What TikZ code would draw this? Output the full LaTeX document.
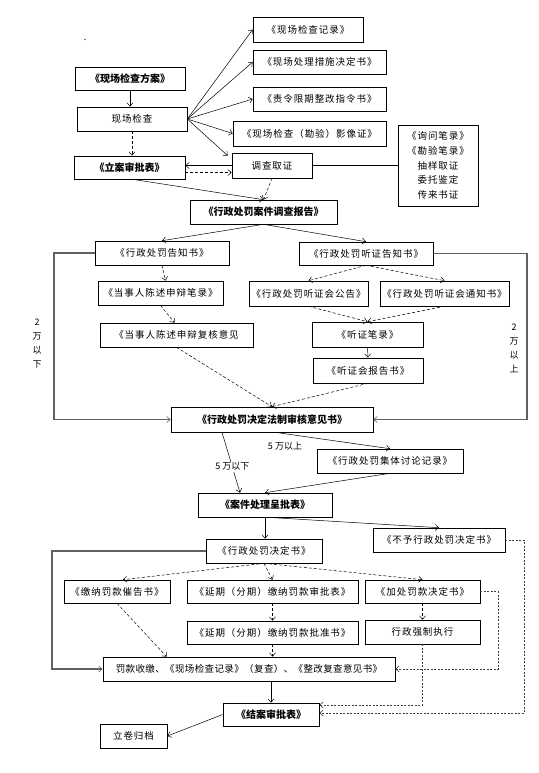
\documentclass[tikz,border=0pt]{standalone}
\usepackage{fontspec}
\newfontfamily\cjk[LetterSpace=10]{Noto Sans CJK SC}
\usetikzlibrary{arrows.meta,calc}
\begin{document}
\begin{tikzpicture}[x=1pt,y=-1pt,
  box/.style={draw, line width=0.6pt, inner sep=0pt, minimum height=24pt, align=center,
    font=\cjk\fontsize{9.5}{11}\selectfont},
  bbox/.style={box, font=\cjk\addfontfeature{LetterSpace=0}\bfseries\fontsize{10}{12}\selectfont},
  lbl/.style={inner sep=1pt, align=center, font=\cjk\addfontfeature{LetterSpace=0}\fontsize{9}{14}\selectfont},
  arr/.style={line width=0.5pt, -{Straight Barb[length=3.5pt,width=6pt]}},
  darr/.style={arr, dash pattern=on 3pt off 2pt},
  loopln/.style={line width=1.8pt, draw=black!62, -{Straight Barb[length=3.5pt,width=6pt,line width=0.6pt]}},
  dloop/.style={line width=0.8pt, draw=black!75, dash pattern=on 2pt off 1.5pt, -{Straight Barb[length=3.5pt,width=6pt,line width=0.6pt]}}
]
\useasboundingbox (0,0) rectangle (538,773);
\node[lbl] (dot) at (85,40) {.};
% top part
\node[bbox, minimum width=110pt, minimum height=23pt] (fa) at (130,78.5) {《现场检查方案》};
\node[box, minimum width=110pt] (xc) at (132,119) {现场检查};
\node[bbox, minimum width=111pt, minimum height=23pt] (la) at (129.5,167.5) {《立案审批表》};
\node[box, minimum width=110pt, minimum height=25pt] (r1) at (308,29.5) {《现场检查记录》};
\node[box, minimum width=133pt] (r2) at (319.5,62) {《现场处理措施决定书》};
\node[box, minimum width=133pt] (r3) at (319.5,99) {《责令限期整改指令书》};
\node[box, minimum width=153pt, minimum height=25pt] (r4) at (309.5,133.5) {《现场检查（勘验）影像证》};
\node[box, minimum width=80pt, minimum height=25pt] (dc) at (272,165.5) {调查取证};
\node[box, minimum width=80pt, minimum height=81pt, font=\cjk\fontsize{9.5}{14.7}\selectfont] (rb) at (438,165.5) {《询问笔录》\\《勘验笔录》\\抽样取证\\委托鉴定\\传来书证};
\node[bbox, minimum width=147pt] (bg) at (263.5,212) {《行政处罚案件调查报告》};
% middle
\node[box, minimum width=134pt] (gz) at (162,253) {《行政处罚告知书》};
\node[box, minimum width=125pt] (sb1) at (160.5,293) {《当事人陈述申辩笔录》};
\node[box, minimum width=153pt] (sb2) at (176.5,335) {《当事人陈述申辩复核意见};
\node[box, minimum width=134pt, minimum height=23pt] (tz) at (366,253.5) {《行政处罚听证告知书》};
\node[box, minimum width=119pt, minimum height=25pt] (gg) at (308.5,293.5) {《行政处罚听证会公告》};
\node[box, minimum width=129pt, minimum height=25pt] (tzs) at (444.5,293.5) {《行政处罚听证会通知书》};
\node[box, minimum width=111pt, minimum height=25pt] (bl) at (367.5,334.5) {《听证笔录》};
\node[box, minimum width=110pt, minimum height=25pt] (bgs) at (368,370.5) {《听证会报告书》};
\node[bbox, minimum width=202pt, minimum height=25pt] (sh) at (272,419.5) {《行政处罚决定法制审核意见书》};
\node[box, minimum width=146pt] (jt) at (390,461) {《行政处罚集体讨论记录》};
\node[bbox, minimum width=134pt] (cp) at (265,505) {《案件处理呈批表》};
% bottom
\node[box, minimum width=132pt] (by) at (439,540) {《不予行政处罚决定书》};
\node[box, minimum width=116pt] (jd) at (264,551) {《行政处罚决定书》};
\node[box, minimum width=106pt, minimum height=23pt] (cg) at (117,591.5) {《缴纳罚款催告书》};
\node[box, minimum width=171pt, minimum height=23pt] (sp) at (272.5,591.5) {《延期（分期）缴纳罚款审批表》};
\node[box, minimum width=115pt, minimum height=23pt] (jc) at (422.5,591.5) {《加处罚款决定书》};
\node[box, minimum width=171pt, minimum height=23pt] (pz) at (272.5,632.5) {《延期（分期）缴纳罚款批准书》};
\node[box, minimum width=115pt] (qz) at (422.5,632) {行政强制执行};
\node[box, minimum width=292pt, font=\cjk\addfontfeature{LetterSpace=4}\fontsize{9.5}{11}\selectfont] (fk) at (249,669) {罚款收缴、《现场检查记录》（复查）、《整改复查意见书》};
\node[bbox, minimum width=96pt, minimum height=23pt] (ja) at (271,714.5) {《结案审批表》};
\node[box, minimum width=67pt] (lj) at (133.5,736) {立卷归档};
% labels
\node[lbl] (lx) at (37,344) {2\\万\\以\\下};
\node[lbl] (ls) at (514,348) {2\\万\\以\\上};
% top connectors
\draw[arr] (fa.south) -- (fa.south |- xc.north);
\draw[darr] (xc.south) -- (xc.south |- la.north);
\draw[arr] (xc.east) -- (r1.west);
\draw[arr] (xc.east) -- (r2.west);
\draw[arr] (xc.east) -- (r3.west);
\draw[arr] (xc.east) -- (r4.west);
\draw[arr] (xc.east) -- ([xshift=-4pt,yshift=-3pt]dc.north west);
\draw[arr] (dc.west) -- (dc.west -| la.east);
\draw[darr] ([yshift=-5pt]la.east) -- ([yshift=-5pt]la.east -| dc.west);
\draw[line width=0.6pt] (dc.east) -- (dc.east -| rb.west);
\draw[darr] (dc.south) -- (bg.north);
\draw[arr] ([xshift=3pt]la.south) -- (bg.north);
% middle connectors
\draw[arr] (bg.south) -- (gz.north);
\draw[arr] (bg.south) -- (tz.north);
\draw[darr] (gz.south) -- ([xshift=5pt]sb1.north);
\draw[darr] (sb1.south) -- ([xshift=-2pt]sb2.north);
\draw[darr] (sb2.south) -- (sh.north);
\draw[darr] (tz.south) -- (gg.north);
\draw[darr] (tz.south) -- (tzs.north);
\draw[darr] (gg.south) -- (bl.north);
\draw[darr] (tzs.south) -- (bl.north);
\draw[arr] (bl.south) -- (bgs.north);
\draw[darr] (bgs.south) -- (sh.north);
\draw[loopln] (gz.west) -- ++(-41,0) |- (sh.west);
\draw[loopln] (tz.east) -- ++(94,0) |- (sh.east);
\draw[arr] ([xshift=-50pt]sh.south) -- node[lbl, fill=white, pos=0.57] (l5x) {5 万以下} ([xshift=-25pt]cp.north);
\draw[arr] ([xshift=3pt]sh.south) -- (jt.north);
\node[lbl] (l5s) at (285,446) {5 万以上};
\draw[arr] (jt.south) -- (cp.north);
% bottom connectors
\draw[arr] (cp.south) -- (cp.south |- jd.north);
\draw[arr] ([xshift=2pt]cp.south) -- (by.north);
\draw[darr] (jd.south) -- ([xshift=6pt]cg.north);
\draw[darr] (jd.south) -- (sp.north);
\draw[darr] (jd.south) -- (jc.north);
\draw[darr] (sp.south) -- (pz.north);
\draw[darr] (pz.south) -- (pz.south |- fk.north);
\draw[darr] (cg.south) -- ([xshift=64pt]fk.north west);
\draw[darr] (jc.south) -- (qz.north);
\draw[arr] (ja.north |- fk.south) -- (ja.north);
\draw[arr] (ja.west) -- (lj.east);
\draw[loopln] (jd.west) -- ++(-154,0) |- (fk.west);
\draw[dloop] (jc.east) -- ++(18,0) |- (fk.east);
\draw[dloop] (qz.south) |- ([yshift=9.5pt]ja.east);
\draw[dloop] (by.east) -- ++(19,0) |- ([yshift=1.5pt]ja.east);
\end{tikzpicture}
\end{document}
